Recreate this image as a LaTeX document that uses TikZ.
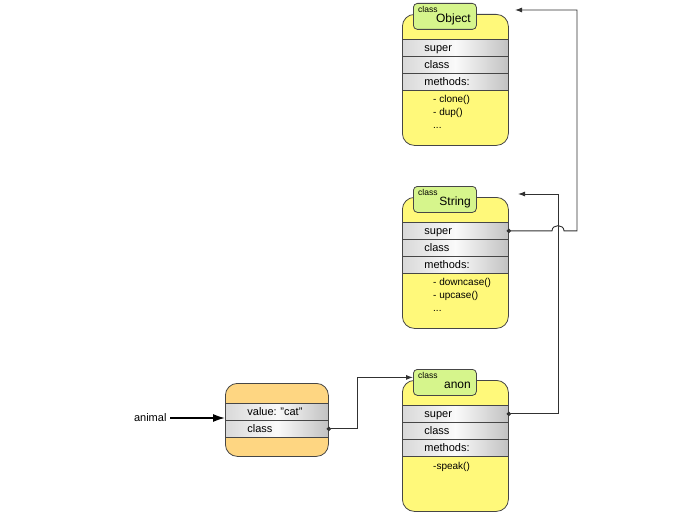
\documentclass[tikz,border=0pt]{standalone}
\usepackage{fontspec}
\setmainfont{Liberation Sans}
\usetikzlibrary{arrows.meta,positioning,calc}
\definecolor{boxyellow}{RGB}{255,249,122}
\definecolor{tabgreen}{RGB}{214,245,140}
\definecolor{objorange}{RGB}{254,214,130}
\definecolor{edge}{RGB}{70,70,70}
\frenchspacing

\begin{document}
\begin{tikzpicture}[x=1pt, y=-1pt,
  classbox/.style={draw=edge, line width=0.8pt, rounded corners=12pt, fill=boxyellow,
                   minimum width=106pt, minimum height=131pt, anchor=north west},
  tab/.style={draw=edge, line width=0.8pt, rounded corners=4pt, fill=tabgreen,
              minimum width=63pt, minimum height=26pt, anchor=north west},
  kind/.style={font=\fontsize{8.5}{9}\selectfont, anchor=west, inner sep=0pt},
  cname/.style={font=\fontsize{12}{14}\selectfont, anchor=east, inner sep=0pt},
  slot/.style={draw=edge, line width=0.8pt, left color=black!15, right color=black!24,
               middle color=black!2, minimum height=17pt, inner xsep=22pt, inner ysep=0pt,
               text width=62pt, text height=8pt, text depth=1pt, align=left, anchor=north west,
               font=\fontsize{11}{13}\selectfont},
  mlist/.style={font=\fontsize{10}{13}\selectfont, align=left, anchor=north west, inner sep=0pt},
  link/.style={draw=edge!70!black, line width=0.9pt, {Circle[length=4.4pt]}-{Latex[length=7pt,width=5pt]},
               shorten <=-2.2pt},
]
\useasboundingbox (0,0) rectangle (679,516);

% Object
\node[classbox] (objbox) at (402,14) {};
\node[tab] (objtab) at (413,3) {};
\node[kind] at (418,9) {class};
\node[cname] (objname) at (471,19) {Object};
\node[slot] (objsuper) at (402,39) {super};
\node[slot] (objclass) at (402,56) {class};
\node[slot] (objmeth) at (402,73) {methods:};
\node[mlist] (objlist) at (433,95) {- clone()\\- dup()\\...};

% String
\node[classbox] (strbox) at (402,197) {};
\node[tab] (strtab) at (413,186) {};
\node[kind] at (418,192) {class};
\node[cname] (strname) at (471,202) {String};
\node[slot] (strsuper) at (402,222) {super};
\node[slot] (strclass) at (402,239) {class};
\node[slot] (strmeth) at (402,256) {methods:};
\node[mlist] (strlist) at (433,278) {- downcase()\\- upcase()\\...};

% anon
\node[classbox] (anonbox) at (402,380) {};
\node[tab] (anontab) at (413,369) {};
\node[kind] at (418,375) {class};
\node[cname] (anonname) at (471,385) {anon};
\node[slot] (anonsuper) at (402,405) {super};
\node[slot] (anonclass) at (402,422) {class};
\node[slot] (anonmeth) at (402,439) {methods:};
\node[mlist] (anonlist) at (433,462) {-speak()};

% the object
\node[classbox, fill=objorange, minimum width=103pt, minimum height=73pt] (catbox) at (225,383) {};
\node[slot, text width=59pt] (catvalue) at (225,403) {value: "cat"};
\node[slot, text width=59pt] (catclass) at (225,420) {class};
\node[font=\fontsize{11}{13}\selectfont, anchor=east] (animal) at (170,418) {animal};
\draw[line width=1.6pt, -{Latex[length=12pt,width=8pt]}] (animal.east) -- (animal.east -| catbox.west);

% Links
\coordinate (objin) at (515,10);
\coordinate (objbend) at (577,10);
\coordinate (strin) at (518,194);
\coordinate (strbend) at (558,194);
\draw[link] (catclass.east) -- ++(29,0) |- ([yshift=5pt]anontab.west);
\draw[link] (anonsuper.east) -| (strbend) -- (strin);
\draw[link] (strsuper.east) -- ($(strsuper.east -| strbend)+(-6,0)$)
  .. controls +(0,-7) and +(0,-7) .. ($(strsuper.east -| strbend)+(6,0)$)
  -- (strsuper.east -| objbend) -- (objbend) -- (objin);
\end{tikzpicture}
\end{document}
